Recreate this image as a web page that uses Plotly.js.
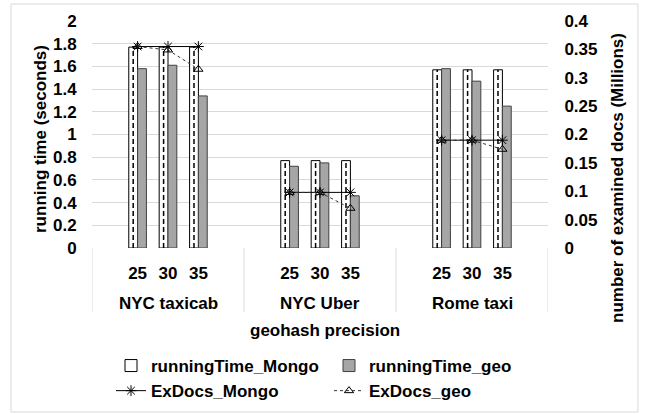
<!DOCTYPE html>
<html>
<head>
<meta charset="utf-8">
<script src="https://cdn.plot.ly/plotly-3.0.1.min.js"></script>
<style>html,body{margin:0;padding:0;background:#fff;}#chart{width:649px;height:414px;}</style>
</head>
<body>
<div id="chart"></div>
<script>
// ---- data ----
var groups = ['NYC taxicab', 'NYC Uber', 'Rome taxi'];
var precisions = ['25', '30', '35'];
var runningTimeMongo = [1.77, 1.77, 1.77, 0.77, 0.77, 0.77, 1.57, 1.57, 1.57];
var runningTimeGeo = [1.58, 1.61, 1.34, 0.72, 0.75, 0.46, 1.58, 1.47, 1.25];
var exDocsMongo = [0.355, 0.355, 0.355, 0.098, 0.098, 0.098, 0.19, 0.19, 0.19];
var exDocsGeo = [0.355, 0.349, 0.315, 0.098, 0.098, 0.07, 0.19, 0.19, 0.174];
var leftTicks = [0, 0.2, 0.4, 0.6, 0.8, 1, 1.2, 1.4, 1.6, 1.8, 2];
var leftTickText = ['0', '0.2', '0.4', '0.6', '0.8', '1', '1.2', '1.4', '1.6', '1.8', '2'];
var rightTicks = [0, 0.05, 0.1, 0.15, 0.2, 0.25, 0.3, 0.35, 0.4];
var rightTickText = ['0', '0.05', '0.1', '0.15', '0.2', '0.25', '0.3', '0.35', '0.4'];

// ---- layout helpers: each group takes 5 slots (blank, 25, 30, 35, blank) ----
var SLOTS = precisions.length + 2;
var BW = 0.29;
var xs = [], tickText = [];
groups.forEach(function (g, gi) {
  precisions.forEach(function (p, pi) {
    xs.push(gi * SLOTS + pi + 1);
    tickText.push(p);
  });
});
function withGaps(vals) {
  var X = [], Y = [];
  groups.forEach(function (g, gi) {
    precisions.forEach(function (p, pi) {
      var k = gi * precisions.length + pi;
      X.push(xs[k]); Y.push(vals[k]);
    });
    X.push(null); Y.push(null);
  });
  return {x: X, y: Y};
}
// dashed centre line inside the Mongo bars
var dX = [], dY = [];
runningTimeMongo.forEach(function (v, k) {
  dX.push(xs[k] - BW / 2, xs[k] - BW / 2, null);
  dY.push(0, v, null);
});

var em = withGaps(exDocsMongo), eg = withGaps(exDocsGeo);

var traces = [
  {type: 'bar', name: 'runningTime_Mongo', x: xs, y: runningTimeMongo, width: BW, offset: -BW,
   marker: {color: '#ffffff', line: {color: '#000000', width: 1}}},
  {type: 'bar', name: 'runningTime_geo', x: xs, y: runningTimeGeo, width: BW, offset: 0,
   marker: {color: '#a6a6a6', line: {color: '#404040', width: 1}}},
  {type: 'scatter', mode: 'lines', x: dX, y: dY, showlegend: false, hoverinfo: 'skip',
   line: {color: '#000000', width: 1.5, dash: '5px,3px'}},
  {type: 'scatter', mode: 'lines+markers', name: 'ExDocs_Mongo', x: em.x, y: em.y, yaxis: 'y2',
   connectgaps: false,
   line: {color: '#000000', width: 1},
   marker: {symbol: 'asterisk-open', size: 9, color: '#000000', line: {color: '#000000', width: 1}}},
  {type: 'scatter', mode: 'lines+markers', name: 'ExDocs_geo', x: eg.x, y: eg.y, yaxis: 'y2',
   connectgaps: false,
   line: {color: '#333333', width: 1, dash: '3px,3px'},
   marker: {symbol: 'triangle-up-open', size: 8, color: '#000000', line: {color: '#000000', width: 1}}}
];

var L = 92, R = 548, T = 21, B = 248, W = 649, H = 414;
var pw = R - L, ph = B - T;
function px(x) { return (x - L) / pw; }
function py(y) { return (B - y) / ph; }

var shapes = [];
for (var gi = 0; gi <= groups.length; gi++) {
  shapes.push({type: 'line', xref: 'x', yref: 'paper', x0: gi * SLOTS - 0.5, x1: gi * SLOTS - 0.5,
    y0: 0, y1: py(312), line: {color: '#d9d9d9', width: 1}});
}
shapes.push({type: 'rect', xref: 'paper', yref: 'paper', x0: px(11), x1: px(638), y0: py(412), y1: py(4),
  line: {color: '#d9d9d9', width: 1}, fillcolor: 'rgba(0,0,0,0)', layer: 'below'});

var annotations = groups.map(function (g, gi) {
  return {text: g, xref: 'x', yref: 'paper', x: gi * SLOTS + (SLOTS - 1) / 2, y: py(303),
    xanchor: 'center', yanchor: 'middle', showarrow: false, font: {size: 17}};
});
annotations.push({text: 'geohash precision', xref: 'paper', yref: 'paper', x: px(325), y: py(330),
  xanchor: 'center', yanchor: 'middle', showarrow: false, font: {size: 17}});
annotations.push({text: 'running time (seconds)', xref: 'paper', yref: 'paper', x: px(40), y: py(139),
  xanchor: 'center', yanchor: 'middle', textangle: -90, showarrow: false, font: {size: 17}});
annotations.push({text: 'number of examined docs (Millions)', xref: 'paper', yref: 'paper', x: px(617), y: py(178),
  xanchor: 'center', yanchor: 'middle', textangle: -90, showarrow: false, font: {size: 17}});

var layout = {
  width: W, height: H,
  margin: {l: L, r: W - R, t: T, b: H - B, pad: 0, autoexpand: false},
  paper_bgcolor: '#ffffff', plot_bgcolor: '#ffffff',
  font: {family: 'Liberation Sans, Arial, sans-serif', size: 17, color: '#000000', weight: 'bold'},
  barmode: 'overlay',
  showlegend: true,
  xaxis: {range: [-0.5, groups.length * SLOTS - 0.5], tickvals: xs, ticktext: tickText,
    showgrid: false, zeroline: false, showline: false, automargin: false,
    ticks: 'outside', ticklen: 10, tickcolor: 'rgba(0,0,0,0)', tickfont: {size: 17}, fixedrange: true},
  yaxis: {range: [0, 2], tickvals: leftTicks, ticktext: leftTickText, automargin: false,
    showgrid: true, gridcolor: '#d9d9d9', gridwidth: 1, zeroline: false, showline: false,
    ticks: 'outside', ticklen: 11, tickcolor: 'rgba(0,0,0,0)', tickfont: {size: 17}},
  yaxis2: {range: [0, 0.4], overlaying: 'y', side: 'right', tickvals: rightTicks, ticktext: rightTickText,
    showgrid: false, zeroline: false, showline: false, automargin: false,
    ticks: 'outside', ticklen: 12, tickcolor: 'rgba(0,0,0,0)', tickfont: {size: 17}},
  legend: {orientation: 'h', x: px(111), xanchor: 'left', y: py(348), yanchor: 'top',
    entrywidth: 173, entrywidthmode: 'pixels', traceorder: 'normal', font: {size: 17},
    bgcolor: 'rgba(0,0,0,0)'},
  shapes: shapes,
  annotations: annotations
};

Plotly.newPlot('chart', traces, layout, {displayModeBar: false, staticPlot: true});
</script>
</body>
</html>
